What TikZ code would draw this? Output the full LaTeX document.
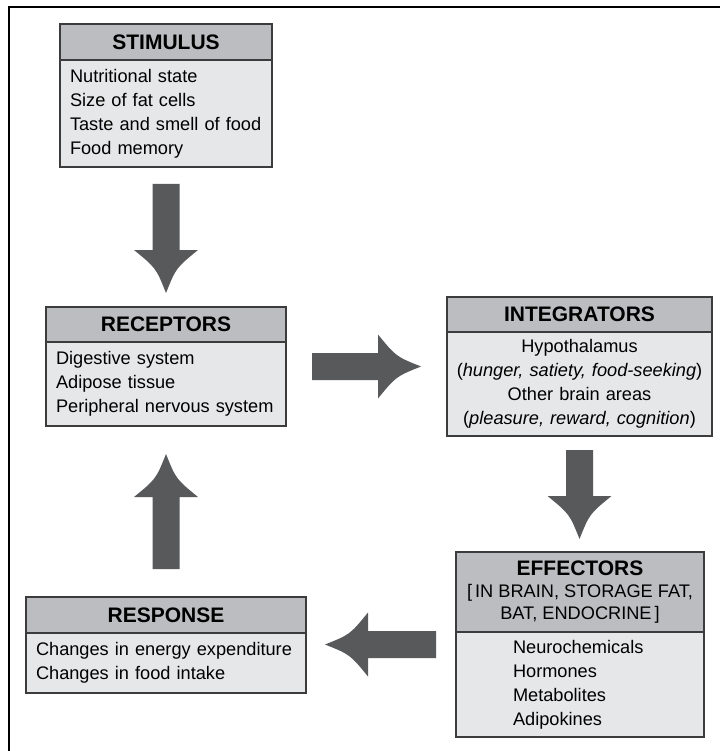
\documentclass[tikz,border=0pt]{standalone}
\usepackage{fontspec}
\setmainfont{Liberation Sans}
\usetikzlibrary{positioning,calc}
\definecolor{headgray}{HTML}{BCBDC0}
\definecolor{bodygray}{HTML}{E6E7E8}
\definecolor{arrowgray}{HTML}{58595B}
\definecolor{boxline}{HTML}{3C3C3C}
\tikzset{
  pics/fatarrow/.style={code={
    \fill[arrowgray] (0,-13.5) -- (#1,-13.5) -- (#1,-32) .. controls (#1+18,-10) .. (#1+43,0)
      .. controls (#1+18,10) .. (#1,32) -- (#1,13.5) -- (0,13.5) -- cycle;
  }}
}
\begin{document}
\begin{tikzpicture}[x=1pt,y=-1pt,
  headbox/.style={draw=boxline,fill=headgray,line width=1.3pt,outer sep=0pt,inner sep=0pt,
    align=center,font=\bfseries\fontsize{21}{22}\selectfont},
  bodybox/.style={draw=boxline,fill=bodygray,line width=1.3pt,outer sep=0pt,inner xsep=10pt,
    inner ysep=0pt,align=left,font=\fontsize{18.2}{24}\selectfont}]
\useasboundingbox (0,0) rectangle (720,751);
\draw[line width=2.5pt] (9,751) -- (9,7) -- (720,7);
\node[headbox,minimum width=212pt,minimum height=36pt] (stimhead) at (166,42) {STIMULUS};
\node[bodybox,text width=192pt,minimum height=107pt,below=0pt of stimhead] (stimbody) {Nutritional state\\Size of fat cells\\Taste and smell of food\\Food memory};
\node[headbox,minimum width=240pt,minimum height=35pt] (rechead) at (166,324.5) {RECEPTORS};
\node[bodybox,text width=220pt,minimum height=84pt,below=0pt of rechead] (recbody) {Digestive system\\Adipose tissue\\Peripheral nervous system};
\node[headbox,minimum width=265pt,minimum height=35pt] (inthead) at (579.5,314.5) {INTEGRATORS};
\node[bodybox,text width=259pt,inner xsep=3pt,align=center,minimum height=104pt,below=0pt of inthead] (intbody) {Hypothalamus\\(\textit{hunger, satiety, food-seeking})\\Other brain areas\\(\textit{pleasure, reward, cognition})};
\node[headbox,minimum width=248pt,minimum height=80pt] (effhead) at (580,592) {EFFECTORS\\{\mdseries\fontsize{18.2}{22}\selectfont [\,IN BRAIN, STORAGE FAT,}\\{\mdseries\fontsize{18.2}{22}\selectfont BAT, ENDOCRINE\,]}};
\node[bodybox,text width=134pt,inner xsep=57pt,minimum height=105pt,below=0pt of effhead] (effbody) {Neurochemicals\\Hormones\\Metabolites\\Adipokines};
\node[headbox,minimum width=280pt,minimum height=36pt] (reshead) at (166,615) {RESPONSE};
\node[bodybox,text width=260pt,minimum height=60pt,below=0pt of reshead] (resbody) {Changes in energy expenditure\\Changes in food intake};
\pic[rotate=-90] at ($(stimbody.south)+(0,17)$) {fatarrow=66};
\pic at ($(rechead.north east)!0.5!(recbody.south east)+(26,0)$) {fatarrow=66};
\pic[rotate=-90] at ($(intbody.south)+(0,14)$) {fatarrow=46};
\pic[rotate=180] at ($(effhead.north west)!0.5!(effbody.south west)+(-20,0)$) {fatarrow=68};
\pic[rotate=90] at ($(reshead.north)+(0,-28)$) {fatarrow=72};
\end{tikzpicture}
\end{document}
